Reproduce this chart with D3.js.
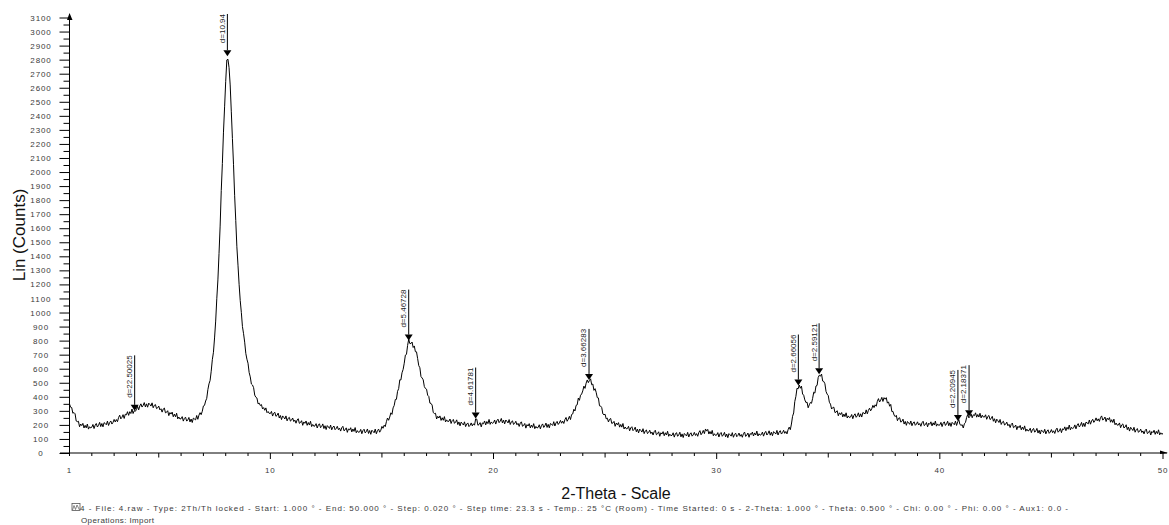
<!DOCTYPE html>
<html>
<head>
<meta charset="utf-8">
<script src="https://cdn.jsdelivr.net/npm/d3@7"></script>
<style>
  html, body { margin: 0; padding: 0; background: #fff; }
  svg { display: block; font-family: Arial, "Liberation Sans", sans-serif; }
</style>
</head>
<body>
<svg id="chart" width="1169" height="525"></svg>
<script>
// Scan grid (degrees 2-theta)
const scanStart = 1.0;
const scanStep = 0.05;

// Intensity (Lin counts), one row per degree (20 steps) from 1.00 to 49.95, then 50.00
const counts = [
  349, 326, 323, 283, 288, 279, 228, 223, 226, 187, 206, 195, 211, 178, 197, 179, 206, 170, 187, 178,
  184, 203, 174, 198, 210, 185, 197, 218, 188, 210, 186, 216, 210, 201, 227, 196, 217, 228, 206, 218,
  239, 221, 238, 223, 253, 269, 243, 254, 273, 246, 276, 272, 294, 268, 294, 281, 313, 281, 301, 297,
  309, 332, 307, 335, 350, 327, 339, 359, 328, 350, 326, 355, 346, 334, 357, 322, 339, 345, 316, 321,
  334, 307, 315, 291, 313, 320, 286, 290, 301, 266, 288, 277, 291, 258, 277, 258, 283, 243, 256, 242,
  244, 259, 227, 247, 255, 227, 235, 253, 221, 242, 217, 248, 242, 236, 267, 240, 269, 287, 273, 297,
  335, 339, 370, 389, 451, 492, 516, 582, 664, 717, 819, 939, 1098, 1232, 1420, 1615, 1869, 2060, 2284, 2464,
  2646, 2798, 2803, 2743, 2620, 2433, 2239, 2052, 1831, 1655, 1468, 1337, 1201, 1085, 1001, 900, 849, 789, 709, 668,
  639, 573, 542, 491, 484, 465, 412, 397, 391, 350, 355, 338, 345, 314, 323, 304, 321, 287, 295, 282,
  281, 296, 263, 283, 290, 261, 268, 284, 249, 267, 238, 264, 254, 242, 264, 229, 247, 254, 227, 234,
  249, 224, 234, 212, 235, 244, 211, 217, 230, 197, 221, 211, 228, 197, 217, 199, 226, 188, 203, 190,
  193, 209, 178, 199, 208, 180, 189, 207, 174, 194, 167, 195, 186, 175, 199, 165, 184, 192, 166, 174,
  190, 166, 177, 156, 180, 190, 158, 165, 179, 147, 172, 163, 180, 150, 171, 154, 181, 144, 159, 147,
  150, 168, 137, 160, 169, 143, 152, 171, 139, 160, 133, 162, 154, 144, 170, 137, 159, 170, 148, 162,
  189, 176, 198, 188, 223, 249, 233, 256, 286, 275, 321, 338, 381, 382, 439, 458, 521, 520, 571, 595,
  639, 697, 702, 765, 810, 779, 779, 790, 751, 762, 721, 720, 672, 622, 607, 544, 534, 521, 473, 459,
  454, 411, 403, 355, 353, 341, 288, 281, 283, 242, 261, 249, 264, 232, 251, 233, 259, 221, 236, 224,
  226, 242, 210, 231, 239, 211, 219, 236, 202, 221, 193, 220, 210, 199, 222, 188, 206, 214, 188, 197,
  214, 193, 208, 198, 243, 241, 198, 202, 216, 186, 214, 208, 228, 200, 224, 209, 239, 204, 221, 211,
  216, 235, 206, 230, 241, 216, 227, 246, 214, 234, 207, 235, 226, 214, 238, 203, 222, 229, 203, 211,
  226, 201, 211, 189, 213, 222, 190, 196, 210, 177, 202, 192, 209, 178, 199, 182, 209, 173, 189, 178,
  182, 201, 172, 196, 207, 182, 193, 213, 182, 204, 179, 210, 204, 196, 223, 192, 214, 225, 203, 214,
  232, 212, 227, 210, 238, 253, 226, 240, 261, 238, 274, 278, 311, 299, 339, 343, 391, 375, 411, 420,
  442, 476, 460, 497, 520, 501, 517, 528, 486, 491, 446, 458, 432, 394, 392, 336, 334, 323, 278, 272,
  276, 243, 248, 221, 240, 246, 210, 214, 225, 190, 213, 201, 216, 184, 203, 184, 210, 171, 185, 172,
  174, 190, 158, 179, 187, 159, 167, 184, 151, 170, 143, 170, 161, 149, 173, 138, 157, 164, 138, 146,
  162, 138, 149, 128, 152, 162, 130, 137, 151, 119, 144, 135, 152, 123, 144, 128, 155, 119, 134, 123,
  126, 144, 113, 136, 145, 119, 129, 148, 115, 136, 110, 139, 131, 121, 147, 114, 135, 144, 120, 129,
  147, 125, 138, 119, 146, 159, 130, 142, 161, 138, 171, 156, 168, 135, 153, 135, 161, 123, 137, 125,
  128, 145, 114, 137, 146, 119, 129, 147, 115, 135, 109, 138, 130, 120, 145, 112, 132, 141, 116, 125,
  142, 119, 132, 112, 138, 149, 118, 127, 142, 112, 138, 131, 149, 121, 143, 128, 156, 121, 137, 127,
  131, 149, 120, 143, 154, 128, 139, 158, 127, 148, 123, 152, 145, 135, 161, 128, 149, 159, 135, 144,
  162, 140, 153, 136, 166, 184, 166, 206, 261, 285, 366, 403, 461, 457, 484, 461, 476, 420, 411, 378,
  359, 362, 322, 343, 360, 354, 389, 433, 426, 477, 481, 538, 554, 547, 562, 512, 509, 493, 438, 419,
  409, 361, 348, 313, 323, 326, 288, 291, 301, 265, 286, 274, 288, 257, 277, 259, 286, 249, 264, 252,
  256, 274, 244, 268, 279, 254, 265, 286, 256, 279, 256, 288, 284, 278, 307, 279, 304, 319, 300, 315,
  339, 323, 343, 333, 368, 387, 363, 376, 396, 367, 394, 383, 394, 355, 364, 333, 346, 295, 296, 270,
  259, 268, 230, 247, 251, 220, 225, 241, 206, 225, 197, 224, 215, 204, 228, 194, 214, 222, 197, 205,
  222, 199, 210, 190, 215, 226, 195, 202, 217, 186, 212, 204, 222, 193, 215, 199, 227, 191, 207, 196,
  200, 218, 188, 212, 222, 196, 207, 226, 194, 215, 189, 218, 210, 201, 227, 196, 222, 238, 203, 197,
  201, 178, 208, 218, 253, 274, 250, 261, 279, 251, 272, 266, 286, 255, 274, 256, 283, 250, 269, 256,
  256, 272, 240, 260, 267, 238, 245, 261, 226, 244, 215, 241, 230, 217, 239, 203, 220, 226, 199, 205,
  220, 194, 204, 181, 204, 213, 180, 186, 199, 166, 190, 180, 196, 165, 185, 167, 193, 155, 170, 157,
  160, 176, 145, 166, 175, 148, 157, 175, 142, 162, 135, 164, 155, 145, 169, 136, 156, 165, 140, 149,
  167, 145, 158, 139, 165, 177, 148, 157, 174, 145, 172, 166, 186, 159, 183, 169, 199, 165, 183, 174,
  180, 200, 172, 197, 209, 185, 197, 218, 188, 212, 188, 220, 214, 207, 235, 205, 228, 240, 218, 230,
  250, 229, 243, 225, 252, 264, 234, 242, 256, 224, 248, 237, 252, 219, 237, 217, 241, 201, 213, 198,
  199, 214, 180, 200, 207, 178, 185, 201, 166, 185, 156, 183, 172, 160, 183, 148, 166, 174, 147, 155,
  170, 146, 157, 136, 160, 170, 138, 145, 159, 128, 153, 145, 162, 133, 154, 138, 165, 129, 144, 133,
  140
];

// Picked peaks: position (2-theta), marker height (counts), d-spacing label
const peakAngles = [3.92, 8.075, 16.20, 19.20, 24.28, 33.66, 34.59, 40.81, 41.31];
const peakCounts = [300, 2825, 800, 245, 520, 480, 560, 228, 262];
const peakLabels = ["d=22.50025", "d=10.94", "d=5.46728", "d=4.61781", "d=3.66283",
                    "d=2.66056", "d=2.59121", "d=2.20945", "d=2.18371"];

// Axis ticks
const yTickValues = [0, 100, 200, 300, 400, 500, 600, 700, 800, 900, 1000, 1100, 1200,
  1300, 1400, 1500, 1600, 1700, 1800, 1900, 2000, 2100, 2200, 2300, 2400, 2500,
  2600, 2700, 2800, 2900, 3000, 3100];
const xTickLabels = [1, 10, 20, 30, 40, 50];

const xTitle = "2-Theta - Scale";
const yTitle = "Lin (Counts)";
const footerLines = [
  "4 - File: 4.raw - Type: 2Th/Th locked - Start: 1.000 ° - End: 50.000 ° - Step: 0.020 ° - Step time: 23.3 s - Temp.: 25 °C (Room) - Time Started: 0 s - 2-Theta: 1.000 ° - Theta: 0.500 ° - Chi: 0.00 ° - Phi: 0.00 ° - Aux1: 0.0 -",
  "Operations: Import"
];

const series = counts.map((c, i) => ({ t: scanStart + i * scanStep, c }));

const svg = d3.select("#chart");
const x = d3.scaleLinear().domain([1, 50]).range([69.5, 1163]);
const y = d3.scaleLinear().domain([0, 3100]).range([453, 17.5]);

const ink = "#000";
const textInk = "#3a3a3a";

// ---- Y axis ----
const yMinor = d3.range(50, 3100, 100);
const yAxisMinor = svg.append("g").attr("transform", `translate(${x(1)},0)`)
  .call(d3.axisLeft(y).tickValues(yMinor).tickSize(6).tickFormat(""));
yAxisMinor.select(".domain").remove();
yAxisMinor.selectAll("line").attr("stroke", ink);

const yAxis = svg.append("g").attr("transform", `translate(${x(1)},0)`)
  .call(d3.axisLeft(y).tickValues(yTickValues).tickSize(10).tickFormat(d3.format("d")));
yAxis.select(".domain").remove();
yAxis.selectAll("line").attr("stroke", ink);
yAxis.selectAll("text")
  .attr("text-anchor", "middle")
  .attr("x", -28.5)
  .attr("fill", textInk)
  .style("font-size", "8px")
  .style("letter-spacing", "0.9px")
  .style("font-family", "Arial, 'Liberation Sans', sans-serif");

// ---- X axis ----
const xTickAll = d3.range(1, 51);
const xAxisG = svg.append("g").attr("transform", `translate(0,${y(0)})`);
xAxisG.selectAll("line.tick")
  .data(xTickAll)
  .join("line")
  .attr("class", "tick")
  .attr("x1", d => x(d)).attr("x2", d => x(d))
  .attr("y1", 0)
  .attr("y2", d => (d % 10 === 0 ? 6 : d % 5 === 0 ? 4.5 : 3))
  .attr("stroke", ink);
xAxisG.selectAll("text")
  .data(xTickLabels)
  .join("text")
  .attr("x", d => x(d))
  .attr("y", 20)
  .attr("text-anchor", "middle")
  .attr("fill", textInk)
  .style("font-size", "8px")
  .style("letter-spacing", "0.9px")
  .text(d => d);

// Axis lines with arrow heads
svg.append("line")
  .attr("x1", x(1)).attr("x2", x(1))
  .attr("y1", y(0)).attr("y2", 14)
  .attr("stroke", ink);
svg.append("path")
  .attr("d", `M${x(1) - 2.5},20 L${x(1)},13 L${x(1) + 3},20 Z`)
  .attr("fill", ink);
svg.append("line")
  .attr("x1", 60).attr("x2", 1167)
  .attr("y1", y(0)).attr("y2", y(0))
  .attr("stroke", ink);
svg.append("path")
  .attr("d", `M1160,${y(0) - 2.5} L1168,${y(0)} L1160,${y(0) + 1} Z`)
  .attr("fill", ink);

// ---- Diffraction pattern ----
const line = d3.line().x(d => x(d.t)).y(d => y(d.c));
svg.append("path")
  .datum(series)
  .attr("d", line)
  .attr("fill", "none")
  .attr("stroke", ink)
  .attr("stroke-width", 1)
  .attr("stroke-linejoin", "round");

// ---- Peak markers ----
const labelFont = 8;
const markers = svg.append("g");
peakAngles.forEach((a, i) => {
  const px = x(a);
  const tip = y(peakCounts[i]);
  const triTop = tip - 6;
  const g = markers.append("g");
  const txt = g.append("text")
    .attr("transform", `translate(${px - 2.6},${triTop - 7}) rotate(-90)`)
    .attr("text-anchor", "start")
    .attr("fill", "#222")
    .style("font-size", labelFont + "px")
    .text(peakLabels[i]);
  const len = txt.node().getComputedTextLength();
  g.append("line")
    .attr("x1", px).attr("x2", px)
    .attr("y1", triTop - 7 - len).attr("y2", triTop)
    .attr("stroke", ink);
  g.append("path")
    .attr("d", `M${px - 4},${triTop} L${px + 4},${triTop} L${px},${tip} Z`)
    .attr("fill", ink);
});

// ---- Titles ----
svg.append("text")
  .attr("x", 616).attr("y", 499)
  .attr("text-anchor", "middle")
  .attr("fill", "#111")
  .style("font-size", "16px")
  .text(xTitle);

svg.append("text")
  .attr("transform", "translate(25,235) rotate(-90)")
  .attr("text-anchor", "middle")
  .attr("fill", "#111")
  .style("font-size", "17px")
  .text(yTitle);

// ---- Scan information footer ----
const icon = svg.append("g").attr("transform", "translate(72,503.5)");
icon.append("rect").attr("width", 8).attr("height", 7)
  .attr("fill", "none").attr("stroke", "#555").attr("stroke-width", 0.8);
icon.append("path")
  .attr("d", "M0.5,6.5 L2,2 L3.5,6 L5,1.5 L7.5,6.5")
  .attr("fill", "none").attr("stroke", "#555").attr("stroke-width", 0.7);

svg.append("text")
  .attr("x", 80).attr("y", 511)
  .attr("fill", textInk)
  .attr("textLength", 988)
  .attr("lengthAdjust", "spacing")
  .style("font-size", "8px")
  .text(footerLines[0]);
svg.append("text")
  .attr("x", 81).attr("y", 523)
  .attr("fill", textInk)
  .style("font-size", "8px")
  .style("letter-spacing", "0.4px")
  .text(footerLines[1]);
</script>
</body>
</html>
